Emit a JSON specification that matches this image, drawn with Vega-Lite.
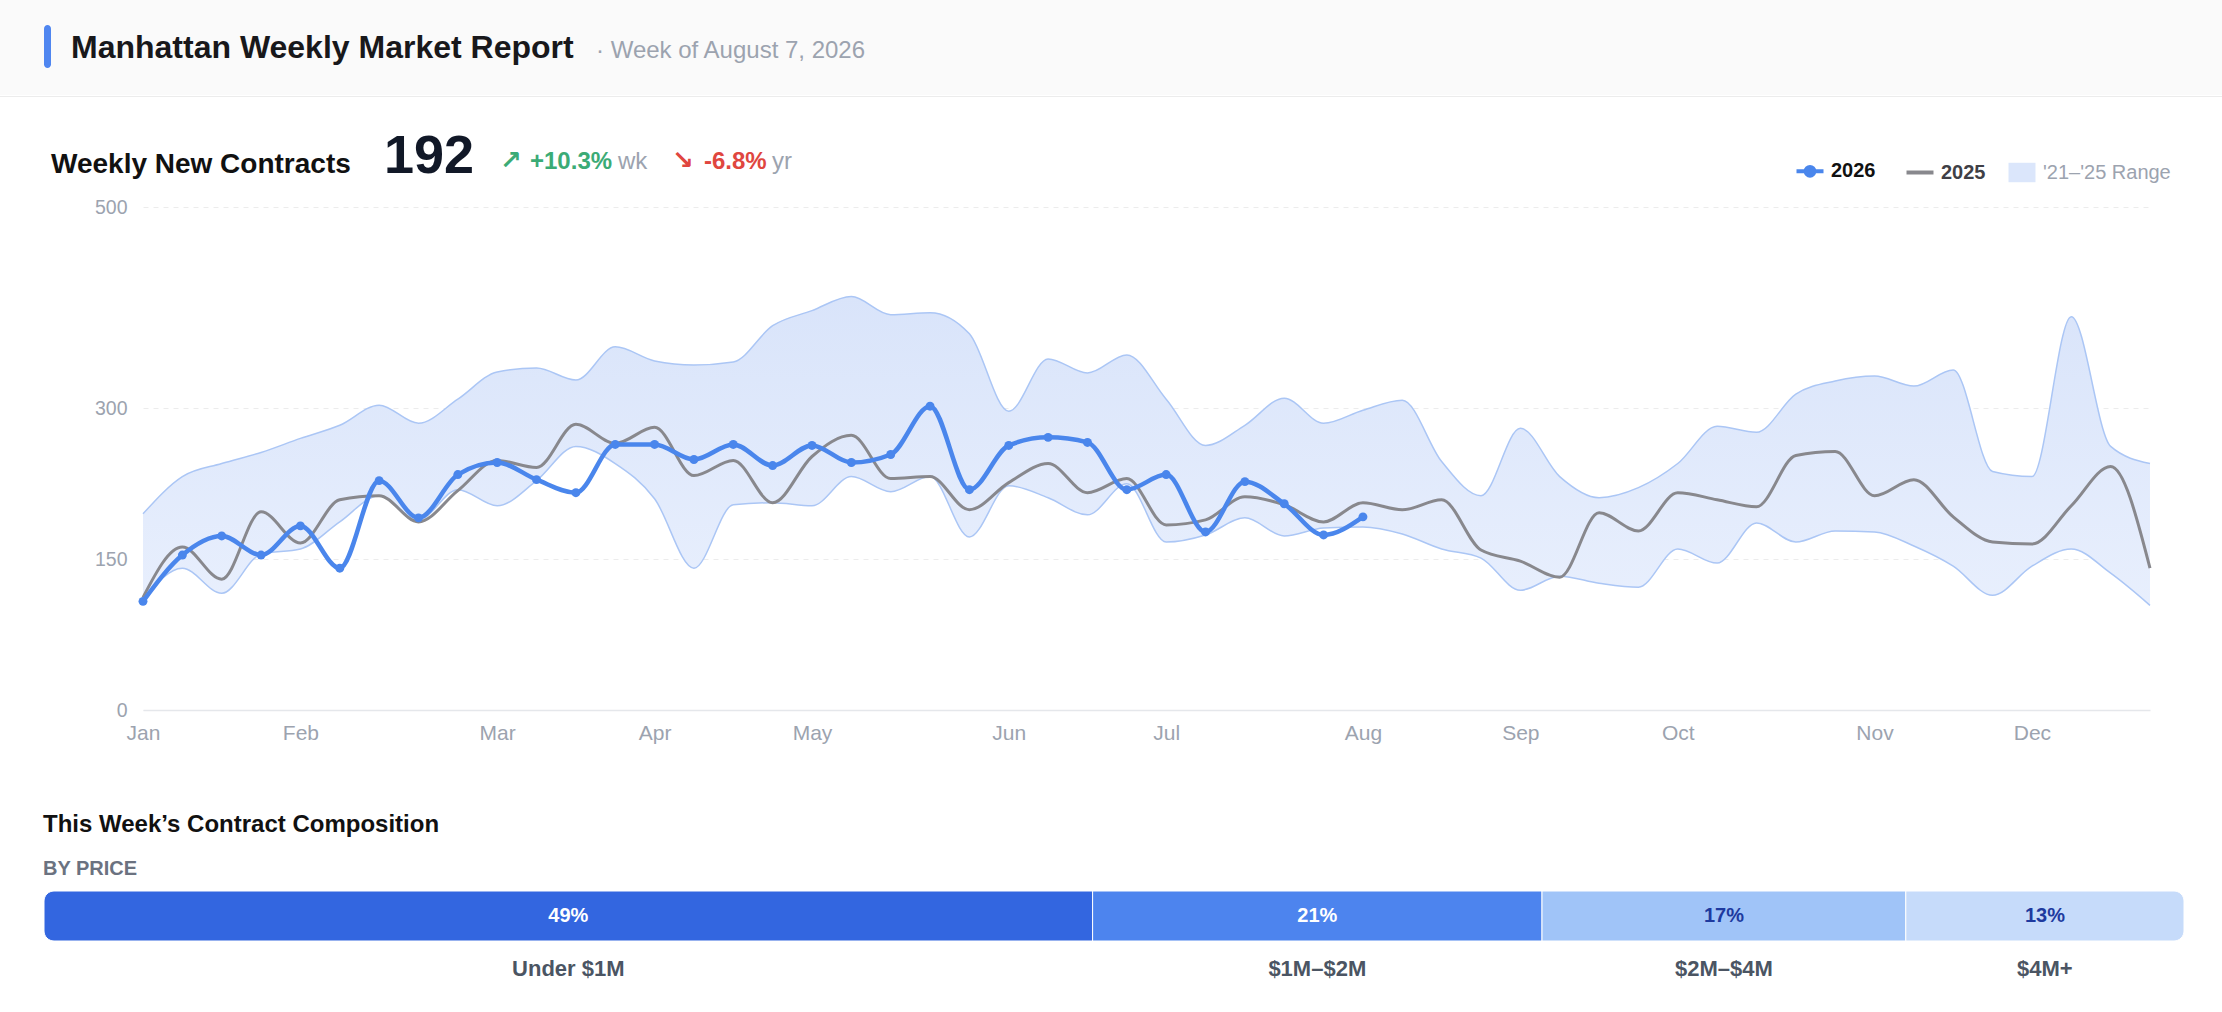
{
  "$schema": "https://vega.github.io/schema/vega-lite/v6.json",
  "padding": 0,
  "background": "white",
  "spacing": 0,
  "config": {"font": "Liberation Sans", "view": {"stroke": null}},
  "resolve": {"scale": {"color": "independent", "fill": "independent"}, "legend": {"color": "independent", "fill": "independent"}},
  "datasets": {
    "blank": [{}],
    "comp": [
      {"bucket": "Under $1M", "rank": 1, "share": 0.49},
      {"bucket": "$1M–$2M", "rank": 2, "share": 0.21},
      {"bucket": "$2M–$4M", "rank": 3, "share": 0.17},
      {"bucket": "$4M+", "rank": 4, "share": 0.13}
    ],
    "weekly": [
      {"week": 0, "y2026": 108, "y2025": 112, "lo": 110, "hi": 195},
      {"week": 1, "y2026": 154, "y2025": 162, "lo": 141, "hi": 232},
      {"week": 2, "y2026": 173, "y2025": 130, "lo": 116, "hi": 245},
      {"week": 3, "y2026": 154, "y2025": 197, "lo": 155, "hi": 256},
      {"week": 4, "y2026": 183, "y2025": 166, "lo": 160, "hi": 270},
      {"week": 5, "y2026": 141, "y2025": 209, "lo": 187, "hi": 283},
      {"week": 6, "y2026": 228, "y2025": 213, "lo": 213, "hi": 303},
      {"week": 7, "y2026": 191, "y2025": 187, "lo": 189, "hi": 285},
      {"week": 8, "y2026": 234, "y2025": 218, "lo": 219, "hi": 309},
      {"week": 9, "y2026": 246, "y2025": 248, "lo": 203, "hi": 336},
      {"week": 10, "y2026": 229, "y2025": 241, "lo": 228, "hi": 340},
      {"week": 11, "y2026": 216, "y2025": 284, "lo": 262, "hi": 328},
      {"week": 12, "y2026": 264, "y2025": 265, "lo": 245, "hi": 361},
      {"week": 13, "y2026": 264, "y2025": 281, "lo": 210, "hi": 347},
      {"week": 14, "y2026": 249, "y2025": 233, "lo": 141, "hi": 343},
      {"week": 15, "y2026": 264, "y2025": 248, "lo": 204, "hi": 346},
      {"week": 16, "y2026": 243, "y2025": 206, "lo": 206, "hi": 382},
      {"week": 17, "y2026": 263, "y2025": 252, "lo": 203, "hi": 397},
      {"week": 18, "y2026": 246, "y2025": 273, "lo": 232, "hi": 411},
      {"week": 19, "y2026": 254, "y2025": 230, "lo": 217, "hi": 393},
      {"week": 20, "y2026": 302, "y2025": 232, "lo": 232, "hi": 395},
      {"week": 21, "y2026": 219, "y2025": 199, "lo": 172, "hi": 374},
      {"week": 22, "y2026": 263, "y2025": 226, "lo": 223, "hi": 297},
      {"week": 23, "y2026": 271, "y2025": 245, "lo": 211, "hi": 349},
      {"week": 24, "y2026": 266, "y2025": 216, "lo": 194, "hi": 335},
      {"week": 25, "y2026": 219, "y2025": 230, "lo": 225, "hi": 353},
      {"week": 26, "y2026": 234, "y2025": 184, "lo": 167, "hi": 309},
      {"week": 27, "y2026": 177, "y2025": 189, "lo": 174, "hi": 263},
      {"week": 28, "y2026": 227, "y2025": 212, "lo": 191, "hi": 283},
      {"week": 29, "y2026": 205, "y2025": 204, "lo": 173, "hi": 310},
      {"week": 30, "y2026": 174, "y2025": 187, "lo": 181, "hi": 285},
      {"week": 31, "y2026": 192, "y2025": 206, "lo": 182, "hi": 298},
      {"week": 32, "y2025": 199, "lo": 175, "hi": 308},
      {"week": 33, "y2025": 209, "lo": 160, "hi": 247},
      {"week": 34, "y2025": 159, "lo": 151, "hi": 213},
      {"week": 35, "y2025": 148, "lo": 119, "hi": 280},
      {"week": 36, "y2025": 132, "lo": 133, "hi": 232},
      {"week": 37, "y2025": 196, "lo": 126, "hi": 211},
      {"week": 38, "y2025": 178, "lo": 122, "hi": 221},
      {"week": 39, "y2025": 216, "lo": 160, "hi": 245},
      {"week": 40, "y2025": 209, "lo": 146, "hi": 282},
      {"week": 41, "y2025": 202, "lo": 186, "hi": 276},
      {"week": 42, "y2025": 253, "lo": 167, "hi": 314},
      {"week": 43, "y2025": 257, "lo": 178, "hi": 327},
      {"week": 44, "y2025": 213, "lo": 177, "hi": 332},
      {"week": 45, "y2025": 229, "lo": 163, "hi": 322},
      {"week": 46, "y2025": 192, "lo": 143, "hi": 338},
      {"week": 47, "y2025": 167, "lo": 114, "hi": 237},
      {"week": 48, "y2025": 165, "lo": 143, "hi": 232},
      {"week": 49, "y2025": 203, "lo": 160, "hi": 391},
      {"week": 50, "y2025": 242, "lo": 136, "hi": 262},
      {"week": 51, "y2025": 141, "lo": 104, "hi": 245}
    ]
  },
  "vconcat": [
    {
      "spacing": 0,
      "hconcat": [
        {"width": 44, "height": 95, "data": {"name": "blank"}, "mark": "text", "encoding": {"text": {"value": ""}}, "view": {"fill": "#fafafa"}},
        {
          "spacing": 0,
          "vconcat": [
            {"width": 7, "height": 25, "data": {"name": "blank"}, "mark": "text", "encoding": {"text": {"value": ""}}, "view": {"fill": "#fafafa"}},
            {"width": 7, "height": 43, "data": {"name": "blank"}, "mark": "text", "encoding": {"text": {"value": ""}}, "view": {"fill": "#4f86f0", "cornerRadius": 3.5}},
            {"width": 7, "height": 27, "data": {"name": "blank"}, "mark": "text", "encoding": {"text": {"value": ""}}, "view": {"fill": "#fafafa"}}
          ]
        },
        {"width": 20, "height": 95, "data": {"name": "blank"}, "mark": "text", "encoding": {"text": {"value": ""}}, "view": {"fill": "#fafafa"}},
        {
          "width": 525, "height": 95,
          "data": {"name": "blank"}, "mark": "text", "encoding": {"text": {"value": ""}},
          "view": {"fill": "#fafafa"},
          "title": {"text": "Manhattan Weekly Market Report", "anchor": "start", "frame": "group", "baseline": "top", "offset": -64.7, "fontSize": 32, "fontWeight": "bold", "color": "#18181b"}
        },
        {
          "width": 1626, "height": 95,
          "data": {"name": "blank"}, "mark": "text", "encoding": {"text": {"value": ""}},
          "view": {"fill": "#fafafa"},
          "title": {"text": "· Week of August 7, 2026", "anchor": "start", "frame": "group", "baseline": "top", "offset": -63, "fontSize": 24, "fontWeight": "normal", "color": "#9ca3af"}
        }
      ]
    },
    {"width": 2222, "height": 1, "data": {"name": "blank"}, "mark": {"type": "text", "fontSize": 1}, "encoding": {"text": {"value": ""}}, "view": {"fill": "#ececec"}},
    {
      "bounds": "flush",
      "spacing": 0,
      "resolve": {"scale": {"color": "independent"}, "legend": {"color": "independent"}},
      "hconcat": [
        {"width": 51, "height": 99.5, "data": {"name": "blank"}, "mark": "text", "encoding": {"text": {"value": ""}}},
        {
          "width": 333, "height": 99.5, "data": {"name": "blank"}, "mark": "text", "encoding": {"text": {"value": ""}},
          "title": {"text": "Weekly New Contracts", "anchor": "start", "frame": "group", "baseline": "top", "offset": -81.9, "fontSize": 28, "fontWeight": "bold", "color": "#111111"}
        },
        {
          "width": 116, "height": 99.5, "data": {"name": "blank"}, "mark": "text", "encoding": {"text": {"value": ""}},
          "title": {"text": "192", "anchor": "start", "frame": "group", "baseline": "top", "offset": -87.3, "fontSize": 54, "fontWeight": "bold", "color": "#111827"}
        },
        {
          "width": 30, "height": 99.5, "data": {"name": "blank"}, "mark": "text", "encoding": {"text": {"value": ""}},
          "title": {"text": "↗", "anchor": "start", "frame": "group", "baseline": "top", "offset": -77, "fontSize": 26, "font": "DejaVu Sans", "fontWeight": "bold", "color": "#3bab76"}
        },
        {
          "width": 88, "height": 99.5, "data": {"name": "blank"}, "mark": "text", "encoding": {"text": {"value": ""}},
          "title": {"text": "+10.3%", "anchor": "start", "frame": "group", "baseline": "top", "offset": -77, "fontSize": 24, "fontWeight": "bold", "color": "#3bab76"}
        },
        {
          "width": 54, "height": 99.5, "data": {"name": "blank"}, "mark": "text", "encoding": {"text": {"value": ""}},
          "title": {"text": "wk", "anchor": "start", "frame": "group", "baseline": "top", "offset": -77, "fontSize": 24, "fontWeight": "normal", "color": "#9ca3af"}
        },
        {
          "width": 32, "height": 99.5, "data": {"name": "blank"}, "mark": "text", "encoding": {"text": {"value": ""}},
          "title": {"text": "↘", "anchor": "start", "frame": "group", "baseline": "top", "offset": -77, "fontSize": 26, "font": "DejaVu Sans", "fontWeight": "bold", "color": "#e0463f"}
        },
        {
          "width": 68, "height": 99.5, "data": {"name": "blank"}, "mark": "text", "encoding": {"text": {"value": ""}},
          "title": {"text": "-6.8%", "anchor": "start", "frame": "group", "baseline": "top", "offset": -77, "fontSize": 24, "fontWeight": "bold", "color": "#e0463f"}
        },
        {
          "width": 1450, "height": 99.5, "data": {"name": "blank"}, "mark": "text",
          "encoding": {
            "text": {"value": ""},
            "color": {
              "datum": "2026",
              "type": "nominal",
              "scale": {"domain": ["2026", "2025", "'21–'25 Range"], "range": ["#4a86ec", "#88888d", "#dbe6fb"]},
              "legend": {
                "orient": "none",
                "legendX": 1028,
                "legendY": 64,
                "direction": "horizontal",
                "title": null,
                "labelFontSize": 20,
                "symbolSize": 729,
                "labelOffset": 11,
                "columnPadding": 22,
                "encode": {
                  "symbols": {
                    "update": {
                      "shape": {"signal": "datum.value == '2026' ? 'M-1,0H1M0.32,0A0.32,0.32 0 1 1 -0.32,0A0.32,0.32 0 1 1 0.32,0Z' : datum.value == '2025' ? 'M-1,0H1' : 'M-1,-0.72H1V0.72H-1Z'"},
                      "fill": {"signal": "datum.value == '2026' ? '#4a86ec' : datum.value == '2025' ? 'transparent' : '#dbe6fb'"},
                      "stroke": {"signal": "datum.value == '2026' ? '#4a86ec' : datum.value == '2025' ? '#88888d' : '#dbe6fb'"},
                      "strokeWidth": {"signal": "datum.value == '2026' ? 4 : datum.value == '2025' ? 4 : 0"},
                      "opacity": {"value": 1}
                    }
                  },
                  "labels": {
                    "update": {
                      "fontWeight": {"signal": "datum.value == '2026' || datum.value == '2025' ? 'bold' : 'normal'"},
                      "fill": {"signal": "datum.value == '2026' ? '#111111' : datum.value == '2025' ? '#3f3f46' : '#9ca3af'"}
                    }
                  }
                }
              }
            }
          },
          "title": {"text": "yr", "anchor": "start", "frame": "group", "baseline": "top", "offset": -77, "fontSize": 24, "fontWeight": "normal", "color": "#9ca3af"}
        }
      ]
    },
    {
      "bounds": "flush",
      "spacing": 0,
      "hconcat": [
        {"width": 143, "height": 503, "data": {"name": "blank"}, "mark": "text", "encoding": {"text": {"value": ""}}},
        {
          "width": 2007,
          "height": 503,
          "data": {"name": "weekly"},
          "encoding": {
            "x": {
              "field": "week",
              "type": "quantitative",
              "title": null,
              "scale": {"domain": [0, 51], "nice": false, "zero": false},
              "axis": {
                "values": [0, 4, 9, 13, 17, 22, 26, 31, 35, 39, 44, 48],
                "labelExpr": "['Jan','Feb','Mar','Apr','May','Jun','Jul','Aug','Sep','Oct','Nov','Dec'][indexof([0,4,9,13,17,22,26,31,35,39,44,48], datum.value)]",
                "labelFontSize": 21,
                "labelColor": "#9ca3af",
                "labelPadding": 12,
                "labelFlush": false,
                "labelOverlap": false,
                "ticks": false,
                "grid": false,
                "domainColor": "#e5e7eb",
                "domainWidth": 1.5
              }
            }
          },
          "layer": [
            {
              "mark": {
                "type": "area",
                "interpolate": "monotone",
                "fill": {
                  "gradient": "linear", "x1": 0, "y1": 0, "x2": 0, "y2": 1,
                  "stops": [{"offset": 0, "color": "#d9e4fa"}, {"offset": 1, "color": "#e8effd"}]
                }
              },
              "encoding": {
                "y": {
                  "field": "lo", "type": "quantitative", "title": null,
                  "scale": {"domain": [0, 500], "nice": false},
                  "axis": {
                    "values": [0, 150, 300, 500],
                    "labelFontSize": 19.5,
                    "labelColor": "#9ca3af",
                    "labelPadding": 16,
                    "ticks": false,
                    "domain": false,
                    "grid": true,
                    "gridDash": [5, 5],
                    "gridColor": "#ececec"
                  }
                },
                "y2": {"field": "hi"}
              }
            },
            {
              "mark": {"type": "line", "interpolate": "monotone", "color": "#abc6f5", "strokeWidth": 1.5},
              "encoding": {"y": {"field": "hi", "type": "quantitative", "title": null}}
            },
            {
              "mark": {"type": "line", "interpolate": "monotone", "color": "#abc6f5", "strokeWidth": 1.5},
              "encoding": {"y": {"field": "lo", "type": "quantitative", "title": null}}
            },
            {
              "mark": {"type": "line", "interpolate": "monotone", "color": "#88888d", "strokeWidth": 3},
              "encoding": {"y": {"field": "y2025", "type": "quantitative", "title": null}}
            },
            {
              "transform": [{"filter": "isValid(datum.y2026)"}],
              "mark": {"type": "line", "interpolate": "monotone", "color": "#4a86ec", "strokeWidth": 4.5, "point": {"filled": true, "size": 80, "color": "#4a86ec"}},
              "encoding": {"y": {"field": "y2026", "type": "quantitative", "title": null}}
            }
          ]
        }
      ]
    },
    {
      "width": 2222, "height": 146.5, "data": {"name": "blank"}, "mark": "text", "encoding": {"text": {"value": ""}},
      "title": {
        "text": "This Week’s Contract Composition",
        "subtitle": "BY PRICE",
        "anchor": "start",
        "frame": "group",
        "baseline": "top",
        "dx": 43,
        "offset": -135.5,
        "fontSize": 24,
        "fontWeight": "bold",
        "color": "#111111",
        "subtitleFontSize": 20,
        "subtitleFontWeight": "bold",
        "subtitleColor": "#6b7280",
        "subtitlePadding": 22
      }
    },
    {
      "bounds": "flush",
      "spacing": 0,
      "hconcat": [
        {"width": 44, "height": 50, "data": {"name": "blank"}, "mark": "text", "encoding": {"text": {"value": ""}}},
        {
          "width": 2140,
          "height": 50,
          "data": {"name": "comp"},
          "layer": [
            {
              "transform": [
                {"stack": "share", "groupby": [], "sort": [{"field": "rank", "order": "ascending"}], "as": ["x0", "x1"]},
                {"filter": "datum.rank == 1"}
              ],
              "mark": {"type": "rect", "cornerRadiusTopLeft": 10, "cornerRadiusBottomLeft": 10, "stroke": "white", "strokeWidth": 1},
              "encoding": {
                "x": {"field": "x0", "type": "quantitative", "scale": {"domain": [0, 1], "nice": false, "zero": true}, "axis": null},
                "x2": {"field": "x1"},
                "color": {"field": "bucket", "type": "nominal", "scale": {"domain": ["Under $1M", "$1M–$2M", "$2M–$4M", "$4M+"], "range": ["#3366e0", "#4d84ee", "#a0c4f8", "#c6dbfa"]}, "legend": null}
              }
            },
            {
              "transform": [
                {"stack": "share", "groupby": [], "sort": [{"field": "rank", "order": "ascending"}], "as": ["x0", "x1"]},
                {"filter": "datum.rank == 2 || datum.rank == 3"}
              ],
              "mark": {"type": "rect", "stroke": "white", "strokeWidth": 1},
              "encoding": {
                "x": {"field": "x0", "type": "quantitative"},
                "x2": {"field": "x1"},
                "color": {"field": "bucket", "type": "nominal", "legend": null}
              }
            },
            {
              "transform": [
                {"stack": "share", "groupby": [], "sort": [{"field": "rank", "order": "ascending"}], "as": ["x0", "x1"]},
                {"filter": "datum.rank == 4"}
              ],
              "mark": {"type": "rect", "cornerRadiusTopRight": 10, "cornerRadiusBottomRight": 10, "stroke": "white", "strokeWidth": 1},
              "encoding": {
                "x": {"field": "x0", "type": "quantitative"},
                "x2": {"field": "x1"},
                "color": {"field": "bucket", "type": "nominal", "legend": null}
              }
            },
            {
              "mark": {"type": "text", "fontSize": 20, "fontWeight": "bold", "baseline": "middle"},
              "encoding": {
                "x": {"field": "share", "type": "quantitative", "stack": "zero", "bandPosition": 0.5},
                "order": {"field": "rank"},
                "detail": {"field": "bucket"},
                "fill": {"field": "bucket", "type": "nominal", "scale": {"domain": ["Under $1M", "$1M–$2M", "$2M–$4M", "$4M+"], "range": ["#ffffff", "#ffffff", "#1e3a9f", "#1e3a9f"]}, "legend": null},
                "text": {"field": "share", "type": "quantitative", "format": ".0%"}
              }
            }
          ]
        }
      ]
    },
    {
      "bounds": "flush",
      "spacing": 0,
      "hconcat": [
        {"width": 44, "height": 54, "data": {"name": "blank"}, "mark": "text", "encoding": {"text": {"value": ""}}},
        {
          "width": 2140,
          "height": 54,
          "data": {"name": "comp"},
          "mark": {"type": "text", "fontSize": 22, "fontWeight": "bold", "baseline": "middle", "color": "#4b5563"},
          "encoding": {
            "x": {"field": "share", "type": "quantitative", "stack": "zero", "bandPosition": 0.5, "scale": {"domain": [0, 1], "nice": false}, "axis": null},
            "order": {"field": "rank"},
            "detail": {"field": "bucket"},
            "text": {"field": "bucket", "type": "nominal"}
          }
        }
      ]
    }
  ]
}
